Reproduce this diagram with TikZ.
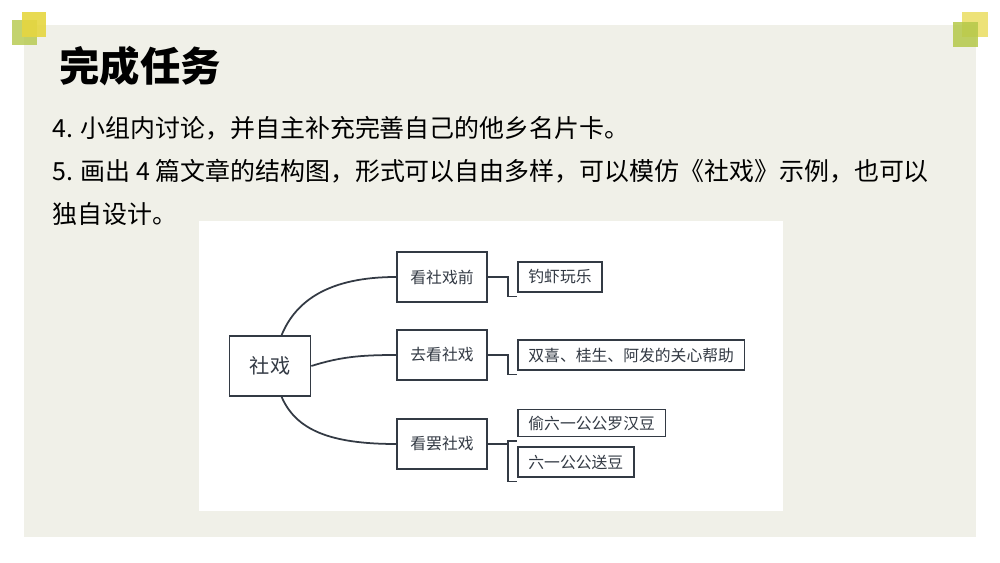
\documentclass[tikz,border=0pt]{standalone}
\usepackage{fontspec}
\setmainfont{Liberation Sans}
\newfontfamily\cjk{Noto Sans CJK SC}
\definecolor{panelgray}{HTML}{F0F0E8}
\definecolor{lime}{HTML}{B5C94A}
\definecolor{sun}{HTML}{E6D640}
\definecolor{ink}{HTML}{333A44}
\tikzset{
  topicbox/.style={draw=ink,line width=1pt,fill=white,minimum width=1.8cm,minimum height=1cm,font=\cjk\fontsize{9}{11}\selectfont,text=ink},
  leafbox/.style={draw=ink,line width=1pt,fill=white,minimum height=0.6cm,anchor=west,inner xsep=6pt,font=\cjk\fontsize{9}{11}\selectfont,text=ink},
  branch/.style={draw=ink,line width=1pt},
  bodytext/.style={anchor=west,inner sep=0pt,font=\cjk\fontsize{14.2}{17}\selectfont}
}
\begin{document}
\begin{tikzpicture}[x=0.02cm,y=-0.02cm]
\useasboundingbox (0,0) rectangle (1000,563);
\fill[white] (0,0) rectangle (1000,563);
\fill[panelgray] (24,25) rectangle (976,537);

% corner squares
\fill[lime,opacity=0.8] (12,20) rectangle (37,45);
\fill[sun,opacity=0.9] (22,12) rectangle (46,37);
\fill[sun,opacity=0.7] (962,12) rectangle (988,37);
\fill[lime,opacity=0.85] (953,22) rectangle (978,47);

% title and task text
\node[anchor=west,inner sep=0pt,font=\cjk\bfseries\fontsize{23}{27}\selectfont] (title) at (59,66) {完成任务};
\node[bodytext] (task4) at (52,128) {4. 小组内讨论，并自主补充完善自己的他乡名片卡。};
\node[bodytext] (task5) at (52,171) {5. 画出 4 篇文章的结构图，形式可以自由多样，可以模仿《社戏》示例，也可以};
\node[bodytext] (task5b) at (52,214) {独自设计。};

% structure map
\fill[white] (199,221) rectangle (783,511);
\node[topicbox,minimum width=1.62cm,minimum height=1.2cm,font=\cjk\fontsize{11.5}{13}\selectfont] (root) at (270,366) {社戏};
\node[topicbox] (before) at (442,277) {看社戏前};
\node[topicbox] (going) at (442,355) {去看社戏};
\node[topicbox] (after) at (442,444) {看罢社戏};

\node[leafbox] (shrimp) at (517,277) {钓虾玩乐};
\node[leafbox] (friends) at (517,355) {双喜、桂生、阿发的关心帮助};
\node[leafbox,minimum height=0.54cm] (beans) at (517,423) {偷六一公公罗汉豆};
\node[leafbox] (gift) at (517,462) {六一公公送豆};

\draw[branch] ([xshift=1.06cm]root.north west) .. controls (296,300) and (330,277) .. (before.west);
\draw[branch] (root.east) .. controls (340,357) and (360,355) .. (going.west);
\draw[branch] ([xshift=1.06cm]root.south west) .. controls (296,430) and (330,444) .. (after.west);

\draw[branch] (before.east) -- ++(20,0) |- ([yshift=-2pt]shrimp.south west);
\draw[branch] (going.east) -- ++(20,0) |- ([yshift=-2pt]friends.south west);
\draw[branch] (after.east) -- ++(20,0) |- ([yshift=-2pt]gift.south west);
\draw[branch] (after.east) ++(20,0) |- ([yshift=-2pt]beans.south west);
\end{tikzpicture}
\end{document}
